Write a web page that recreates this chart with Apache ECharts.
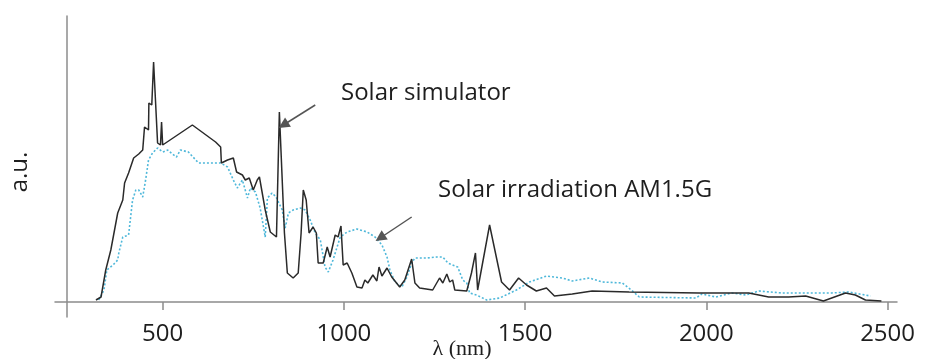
<!DOCTYPE html>
<html>
<head>
<meta charset="utf-8">
<script src="https://cdn.jsdelivr.net/npm/echarts@6/dist/echarts.min.js"></script>
<style>
html,body{margin:0;padding:0;background:#fff;}
#c{width:928px;height:359px;}
</style>
</head>
<body>
<div id="c"></div>
<script>
// Solar simulator spectrum (wavelength nm, a.u.)
var simLambda = [316,330,343,357,376,390,395,406,420,434,445,450,461,462,470,475,486,494,497,500,582,646,660,662,679,695,704,720,728,739,750,761,767,783,797,814,822,836,844,860,874,882,888,896,904,915,924,929,943,954,962,976,984,992,998,1009,1022,1036,1050,1058,1066,1080,1091,1097,1105,1119,1132,1154,1168,1187,1196,1209,1245,1264,1273,1284,1292,1300,1306,1339,1352,1363,1369,1402,1435,1457,1482,1504,1531,1559,1581,1630,1685,1787,1980,2117,2172,2227,2274,2323,2384,2411,2439,2483];
var simValue  = [2,5,32,52,89,102,119,129,144,148,152,175,172,199,197,240,159,157,180,157,177,160,155,139,142,144,130,127,122,124,112,122,125,92,70,65,190,69,29,24,29,69,112,102,69,75,69,39,39,55,45,67,65,76,37,39,29,15,14,22,19,27,21,35,26,34,25,15,22,43,19,14,12,24,19,28,20,22,12,11,29,49,12,77,20,12,24,17,11,14,6,8,11,10,9,9,5,5,6,1,9,7,2,1];
// Solar irradiation AM1.5G (wavelength nm, a.u.)
var amLambda = [324,338,346,363,376,379,390,406,417,426,434,445,453,461,472,486,500,514,527,538,549,571,599,646,660,679,695,706,720,734,742,756,769,783,789,802,813,830,838,847,860,880,893,907,921,935,948,957,970,990,1009,1036,1064,1086,1105,1119,1127,1141,1160,1174,1187,1196,1229,1256,1273,1287,1314,1328,1339,1347,1366,1394,1430,1476,1512,1559,1603,1630,1677,1713,1768,1793,1815,1971,1988,2026,2070,2109,2145,2208,2345,2392,2453];
var amValue  = [2,12,32,37,42,49,65,67,102,112,112,105,122,142,149,154,150,152,148,145,152,150,139,139,139,135,122,114,122,104,114,110,94,65,104,109,105,92,74,89,92,94,92,82,69,62,35,30,42,65,70,73,70,65,57,45,32,20,15,25,39,44,44,45,45,39,35,22,19,9,7,2,4,12,20,26,24,21,24,20,19,12,5,4,8,5,9,7,11,9,9,10,6];
// Axis tick labels
var xTicks = [500,1000,1500,2000,2500];

function pairs(xs, ys){ var out=[]; for (var i=0;i<xs.length;i++) out.push([xs[i], ys[i]]); return out; }

var chart = echarts.init(document.getElementById('c'), null, {renderer:'canvas'});
var font = '"Open Sans", "Noto Sans", sans-serif';
var axisColor = '#8c8c8c';

chart.setOption({
  animation: false,
  backgroundColor: '#ffffff',
  grid: {left: 55, right: 31, top: 16, bottom: 42, containLabel: false},
  xAxis: {
    type: 'value', min: 203, max: 2526,
    axisLine: {show: true, onZero: true, lineStyle: {color: axisColor, width: 1.5}},
    axisTick: {show: true, inside: false, length: 8, customValues: xTicks, lineStyle: {color: axisColor, width: 1.5}},
    axisLabel: {show: true, customValues: xTicks, margin: 5, color: '#1e1e1e', fontSize: 24, fontFamily: font,
      formatter: function (v) { return String(v); }},
    splitLine: {show: false}
  },
  yAxis: {
    type: 'value', min: -15, max: 286, offset: -12,
    axisLine: {show: true, onZero: false, lineStyle: {color: axisColor, width: 1.5}},
    axisTick: {show: false}, axisLabel: {show: false}, splitLine: {show: false}
  },
  series: [
    {
      name: 'Solar irradiation AM1.5G', type: 'line', data: pairs(amLambda, amValue),
      showSymbol: false, smooth: false, z: 2,
      lineStyle: {color: '#4fb8da', width: 1.6, type: [2, 2]},
      markLine: {
        silent: true, symbol: ['none', 'triangle'], symbolSize: [11, 11],
        lineStyle: {color: '#555555', width: 1.5, type: 'solid'},
        itemStyle: {color: '#2b1d12'},
        label: {show: false},
        data: [[{coord: [1187, 85]}, {coord: [1100, 64]}]]
      }
    },
    {
      name: 'Solar simulator', type: 'line', data: pairs(simLambda, simValue),
      showSymbol: false, smooth: false, z: 3,
      lineStyle: {color: '#2a2a2a', width: 1.5},
      markLine: {
        silent: true, symbol: ['none', 'triangle'], symbolSize: [11, 11],
        lineStyle: {color: '#555555', width: 1.5, type: 'solid'},
        itemStyle: {color: '#2b1d12'},
        label: {show: false},
        data: [[{coord: [921, 197]}, {coord: [833, 177]}]]
      }
    }
  ],
  graphic: [
    {type: 'text', x: 341, y: 93, style: {text: 'Solar simulator', font: '24px ' + font, fill: '#1e1e1e', textAlign: 'left', textVerticalAlign: 'middle'}},
    {type: 'text', x: 438, y: 190, style: {text: 'Solar irradiation AM1.5G', font: '24px ' + font, fill: '#1e1e1e', textAlign: 'left', textVerticalAlign: 'middle'}},
    {type: 'text', x: 20, y: 172, rotation: Math.PI / 2, style: {text: 'a.u.', font: '24px ' + font, fill: '#1e1e1e', textAlign: 'center', textVerticalAlign: 'middle'}},
    {type: 'text', x: 462, y: 349, style: {text: 'λ (nm)', font: '22px "Liberation Serif", "DejaVu Serif", serif', fill: '#1e1e1e', textAlign: 'center', textVerticalAlign: 'middle'}}
  ]
});
</script>
</body>
</html>
